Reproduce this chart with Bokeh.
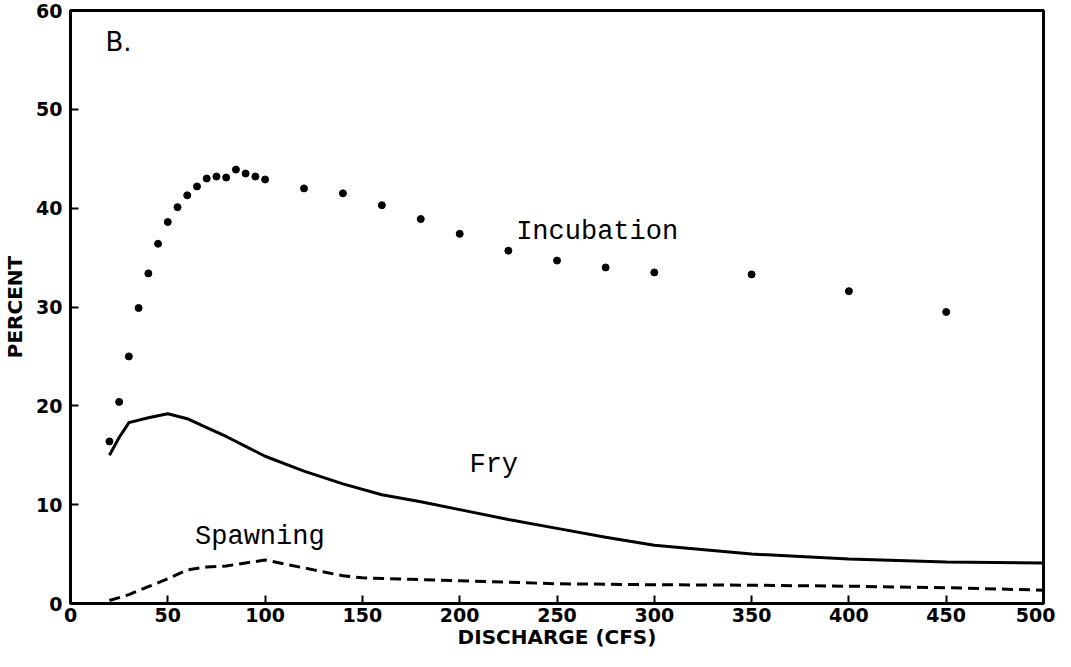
from bokeh.plotting import figure
from bokeh.models import Range1d, FixedTicker, ColumnDataSource
from bokeh.core.properties import value
from bokeh.embed import file_html
from bokeh.resources import INLINE

# ---- data ----
inc_x = [20, 25, 30, 35, 40, 45, 50, 55, 60, 65, 70, 75, 80, 85, 90, 95, 100,
         120, 140, 160, 180, 200, 225, 250, 275, 300, 350, 400, 450]
inc_y = [16.4, 20.4, 25.0, 29.9, 33.4, 36.4, 38.6, 40.1, 41.3, 42.2, 43.0, 43.2, 43.1,
         43.9, 43.5, 43.2, 42.9, 42.0, 41.5, 40.3, 38.9, 37.4, 35.7, 34.7, 34.0,
         33.5, 33.3, 31.6, 29.5]

fry_x = [20, 25, 30, 40, 50, 60, 70, 80, 90, 100, 120, 140, 160, 180, 200, 225,
         250, 275, 300, 350, 400, 450, 500]
fry_y = [15.0, 16.8, 18.3, 18.8, 19.2, 18.7, 17.8, 16.9, 15.9, 14.9, 13.4, 12.1,
         11.0, 10.3, 9.5, 8.5, 7.6, 6.7, 5.9, 5.0, 4.5, 4.2, 4.1]

spawn_x = [20, 30, 40, 50, 60, 70, 80, 90, 100, 110, 125, 140, 150, 175, 200,
           250, 300, 350, 400, 450, 500]
spawn_y = [0.3, 0.9, 1.7, 2.5, 3.4, 3.7, 3.8, 4.1, 4.4, 4.0, 3.4, 2.8, 2.6, 2.45,
           2.3, 2.0, 1.9, 1.85, 1.75, 1.6, 1.35]

x_ticks = [0, 50, 100, 150, 200, 250, 300, 350, 400, 450, 500]
y_ticks = [0, 10, 20, 30, 40, 50, 60]

labels_text = ["Incubation", "Fry", "Spawning"]
labels_x = [229, 205, 64]
labels_y = [37.6, 14.0, 6.7]

panel_text = ["B."]
panel_x = [18]
panel_y = [56.8]

# ---- figure ----
p = figure(output_backend="svg", toolbar_location=None,
           width=1055, height=651,
           x_range=Range1d(0, 500), y_range=Range1d(0, 60),
           min_border_left=64, min_border_top=10, min_border_right=12,
           min_border_bottom=0)
p.background_fill_color = "white"
p.border_fill_color = "white"
p.grid.visible = False
p.outline_line_color = "black"
p.outline_line_width = 3

tick_font = "DejaVu Sans"
for ax in (p.xaxis[0], p.yaxis[0]):
    ax.axis_line_color = "black"
    ax.axis_line_width = 3
    ax.major_tick_in = 8
    ax.major_tick_out = 0
    ax.major_tick_line_width = 2
    ax.major_tick_line_color = "black"
    ax.minor_tick_line_color = None
    ax.major_label_text_font = tick_font
    ax.major_label_text_font_style = "bold"
    ax.major_label_text_font_size = "19px"
    ax.major_label_text_color = "black"
    ax.axis_label_text_font = tick_font
    ax.axis_label_text_font_style = "bold"
    ax.axis_label_text_font_size = "20px"
    ax.axis_label_text_color = "black"

p.xaxis.ticker = FixedTicker(ticks=x_ticks)
p.yaxis.ticker = FixedTicker(ticks=y_ticks)
p.xaxis.axis_label = "DISCHARGE (CFS)"
p.yaxis.axis_label = "PERCENT"
p.xaxis.major_label_standoff = 4
p.yaxis.major_label_standoff = 8
p.xaxis.axis_label_standoff = 0
p.yaxis.axis_label_standoff = 6

# ---- series ----
p.scatter(inc_x, inc_y, size=7, color="black")
p.line(fry_x, fry_y, line_width=3, color="black")
p.line(spawn_x, spawn_y, line_width=3, color="black", line_dash="11 6")

src = ColumnDataSource(dict(x=labels_x, y=labels_y, t=labels_text))
p.text(x="x", y="y", text="t", source=src, text_font=value("Liberation Mono"),
       text_font_size="27px", text_baseline="middle", text_align="left",
       text_color="black")

src2 = ColumnDataSource(dict(x=panel_x, y=panel_y, t=panel_text))
p.text(x="x", y="y", text="t", source=src2, text_font=value("DejaVu Sans"),
       text_font_size="26px", text_baseline="middle", text_align="left",
       text_color="black")

open("out.html", "w").write(file_html(p, INLINE))
